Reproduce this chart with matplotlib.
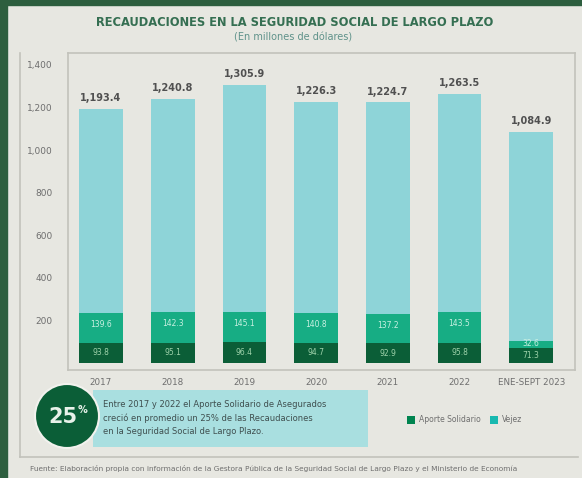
import matplotlib.pyplot as plt
import numpy as np
from matplotlib.patches import Rectangle, Ellipse, FancyBboxPatch, Patch
from matplotlib.lines import Line2D

# Data
years = ['2017', '2018', '2019', '2020', '2021', '2022', 'ENE-SEPT 2023']
base_part = np.array([93.8, 95.1, 96.4, 94.7, 92.9, 95.8, 71.3])
solid_part = np.array([139.6, 142.3, 145.1, 140.8, 137.2, 143.5, 32.6])
other_part = np.array([960.0, 1003.4, 1064.4, 990.8, 994.6, 1024.2, 981.0])
y_ticks = [200, 400, 600, 800, 1000, 1200, 1400]
legend_names = ['Aporte Solidario', 'Vejez']

W, H = 582, 478
def fx(x):
    return x / W
def fy(y):
    return 1 - y / H

bg = '#e7e7e1'
dark = '#0b5e37'
green = '#17ad84'
teal = '#8ed4d8'
frame = '#2d5e3e'

fig = plt.figure(figsize=(W / 100, H / 100), dpi=100)
fig.patch.set_facecolor(bg)

# dark green frame on top and left
fig.add_artist(Rectangle((0, 0), fx(7), 1, transform=fig.transFigure, color=frame, zorder=5))
fig.add_artist(Rectangle((0, fy(5)), 1, 5 / H, transform=fig.transFigure, color=frame, zorder=5))
fig.add_artist(Line2D([fx(20), fx(20)], [fy(53), fy(457)], transform=fig.transFigure,
                      color='#c2c2bb', lw=1.2))
fig.add_artist(Line2D([fx(20), fx(578)], [fy(457), fy(457)], transform=fig.transFigure,
                      color='#c2c2bb', lw=1.2))

# titles
fig.text(fx(295), fy(23), 'RECAUDACIONES EN LA SEGURIDAD SOCIAL DE LARGO PLAZO',
         ha='center', va='center', fontsize=8.3, fontweight='bold', color='#356f52')
fig.text(fx(293), fy(38), '(En millones de dólares)', ha='center', va='center',
         fontsize=7, color='#5f928a')

# main chart
ax = fig.add_axes([fx(68), fy(370), (575 - 68) / W, (370 - 53) / H])
ax.set_facecolor(bg)
x = np.arange(len(years))
w = 0.61
ax.bar(x, base_part, width=w, color=dark)
ax.bar(x, solid_part, width=w, bottom=base_part, color=green)
ax.bar(x, other_part, width=w, bottom=base_part + solid_part, color=teal)

totals = base_part + solid_part + other_part
for xi, t in zip(x, totals):
    ax.annotate(f'{t:,.1f}', (xi, t), xytext=(0, 4), textcoords='offset points',
                ha='center', va='bottom', fontsize=7, color='#505050',
                fontweight='semibold')
for xi, b, s in zip(x, base_part, solid_part):
    ax.text(xi, b / 2, f'{b:.1f}', ha='center', va='center', fontsize=5.5, color='#9fd3ab')
    ax.text(xi, b + s * 0.62, f'{s:.1f}', ha='center', va='center', fontsize=5.5,
            color='#c9f0e2')

ax.set_xlim(-0.46, 6.61)
ax.set_ylim(-33, 1456)
ax.set_yticks(y_ticks)
ax.set_yticklabels([f'{v:,}' for v in y_ticks])
ax.set_xticks(x)
ax.set_xticklabels(years)
ax.tick_params(axis='y', length=0, pad=11, labelsize=6.5, labelcolor='#6e6e6e')
ax.tick_params(axis='x', length=0, pad=6, labelsize=6.3, labelcolor='#6e6e6e')
for sp in ax.spines.values():
    sp.set_color('#c2c2bb')
    sp.set_linewidth(1.2)

# bottom note: circle + text box
fig.add_artist(Ellipse((fx(67), fy(416)), 64 / W, 64 / H, transform=fig.transFigure,
                       facecolor=dark, edgecolor='#f2f2ee', lw=1.5, zorder=4))
fig.text(fx(63), fy(417), '25', ha='center', va='center', fontsize=15,
         fontweight='bold', color='#e8f2ea', zorder=6)
fig.text(fx(82), fy(410), '%', ha='center', va='center', fontsize=7,
         fontweight='bold', color='#e8f2ea', zorder=6)
fig.add_artist(FancyBboxPatch((fx(93), fy(447)), (368 - 93) / W, (447 - 390) / H,
                              boxstyle='square,pad=0', transform=fig.transFigure,
                              facecolor='#a9dfe0', edgecolor='none', zorder=3))
note = ('Entre 2017 y 2022 el Aporte Solidario de Asegurados\n'
        'creció en promedio un 25% de las Recaudaciones\n'
        'en la Seguridad Social de Largo Plazo.')
fig.text(fx(103), fy(418), note, ha='left', va='center', fontsize=6,
         color='#3f4f4f', linespacing=1.6, zorder=6)

# legend
handles = [Patch(facecolor='#00844f'), Patch(facecolor='#19b9b0')]
fig.legend(handles, legend_names, loc='center left', bbox_to_anchor=(fx(400), fy(420)),
           ncol=2, frameon=False, fontsize=5.5, handlelength=1.1, handleheight=1.1,
           columnspacing=1.2, handletextpad=0.5, labelcolor='#6e6e6e')

# source
fig.text(fx(30), fy(468), 'Fuente: Elaboración propia con información de la Gestora Pública '
         'de la Seguridad Social de Largo Plazo y el Ministerio de Economía',
         ha='left', va='center', fontsize=5.3, color='#6e6e6e')

fig.savefig('out.png', dpi=100, facecolor=bg)
